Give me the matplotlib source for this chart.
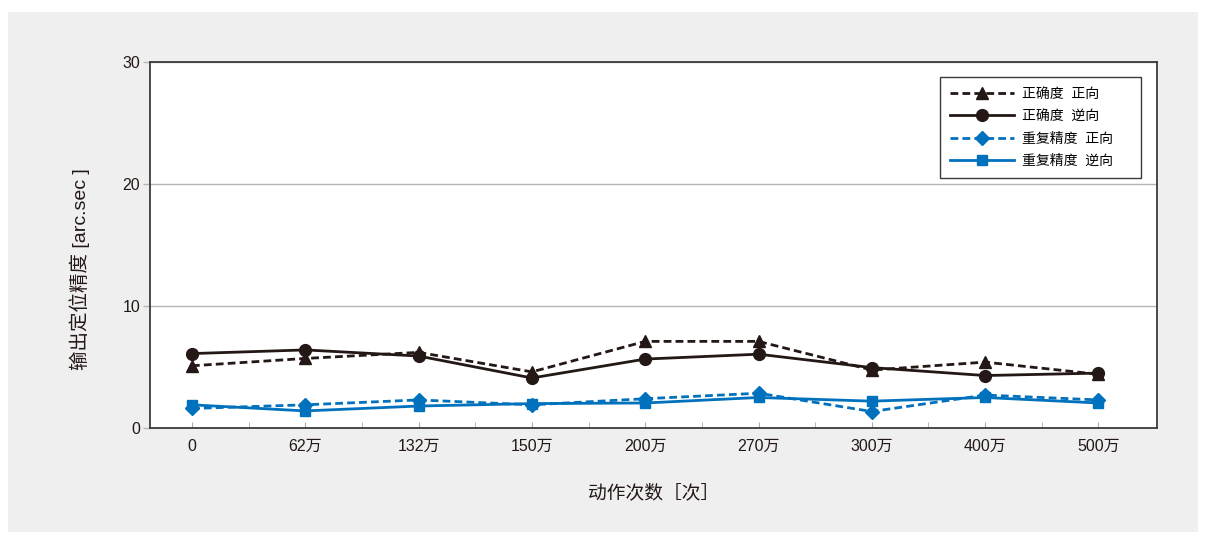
import matplotlib.pyplot as plt
from matplotlib.patches import Rectangle
import numpy as np

plt.rcParams['font.family'] = ['Liberation Sans', 'Noto Sans CJK SC', 'DejaVu Sans']

# cycle counts (x categories)
categories = ["0", "62万", "132万", "150万", "200万", "270万", "300万", "400万", "500万"]

# positioning accuracy [arc.sec]
acc_forward = [5.1, 5.7, 6.2, 4.6, 7.1, 7.1, 4.75, 5.4, 4.4]
acc_reverse = [6.1, 6.4, 5.9, 4.1, 5.65, 6.05, 4.95, 4.3, 4.5]
# repeatability [arc.sec]
rep_forward = [1.6, 1.9, 2.3, 1.9, 2.4, 2.85, 1.35, 2.7, 2.3]
rep_reverse = [1.9, 1.4, 1.8, 2.0, 2.05, 2.5, 2.2, 2.5, 2.05]

DARK = "#231815"
BLUE = "#0071bc"
DASH = (0, (2.8, 1.5))

fig = plt.figure(figsize=(12.06, 5.33), dpi=100)
fig.patches.append(Rectangle((0.0066, 0.002), 0.9868, 0.9755, transform=fig.transFigure,
                             facecolor="#efefef", edgecolor="none", zorder=-10))

ax = fig.add_axes([0.1244, 0.197, 0.835, 0.6867])
x = np.arange(len(categories))

# trailing ideographic space widens the legend box on the right like the original
ax.plot(x, acc_forward, color=DARK, linestyle=DASH, lw=2, marker="^", ms=8.5,
        label="正确度  正向　 ", zorder=3)
ax.plot(x, acc_reverse, color=DARK, linestyle="-", lw=2, marker="o", ms=8.5,
        label="正确度  逆向　 ", zorder=3)
ax.plot(x, rep_forward, color=BLUE, linestyle=DASH, lw=2, marker="D", ms=7.2,
        label="重复精度  正向　 ", zorder=3)
ax.plot(x, rep_reverse, color=BLUE, linestyle="-", lw=2, marker="s", ms=7.5,
        label="重复精度  逆向　 ", zorder=3)

ax.set_xlim(-0.37, 8.517)
ax.set_ylim(0, 30)
ax.set_yticks([0, 10, 20, 30])
ax.yaxis.grid(True, color="#b5b5b5", lw=1)
ax.set_axisbelow(True)

ax.set_xticks(x)
ax.set_xticklabels(categories)
ax.set_xticks(np.arange(0.5, 8, 1), minor=True)
ax.tick_params(axis="x", which="both", direction="in", length=4, color="#aaaaaa",
               labelsize=11.5, labelcolor="#231815", pad=8)
ax.tick_params(axis="y", direction="out", length=5, width=1, color="#b5b5b5",
               labelsize=11.5, labelcolor="#231815", pad=2)

for s in ax.spines.values():
    s.set_color("#3e3a39")
    s.set_linewidth(1.3)

ax.set_xlabel("动作次数［次］", fontsize=13.5, color="#231815", labelpad=22)
ax.set_ylabel("输出定位精度 [arc.sec ]", fontsize=14, color="#231815")
ax.yaxis.set_label_coords(-0.0595, 0.434)

leg = ax.legend(loc="upper right", bbox_to_anchor=(0.984, 0.959), borderaxespad=0,
                fontsize=10, handlelength=4.6, handletextpad=0.58, borderpad=0.72,
                labelspacing=0.6, fancybox=False, framealpha=1, edgecolor="#3e3a39")
leg.get_frame().set_linewidth(1.0)

fig.savefig("out.png", dpi=100)
